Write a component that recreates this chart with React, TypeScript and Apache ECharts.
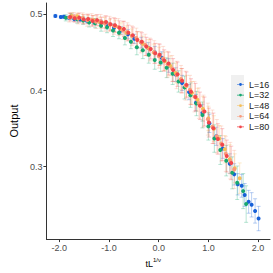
import React, { useEffect, useRef } from "react";
import * as echarts from "echarts";

const seriesNames = ["L=16", "L=32", "L=48", "L=64", "L=80"];
const colors = ["#1660d8", "#16a870", "#f5be57", "#fa9a7b", "#f2474b"];

const x16 = [-2.08, -1.97, -1.91, -1.81, -1.70, -1.58, -1.45, -1.31, -1.17, -1.03, -0.90, -0.76, -0.62, -0.49, -0.35, -0.21, -0.08, 0.06, 0.20, 0.34, 0.47, 0.61, 0.75, 0.88, 1.02, 1.16, 1.29, 1.43, 1.52, 1.59, 1.67, 1.73, 1.81, 1.87, 1.94, 2.01];
const y16 = [0.498, 0.4965, 0.497, 0.4955, 0.494, 0.4935, 0.492, 0.4905, 0.489, 0.485, 0.4825, 0.479, 0.474, 0.468, 0.463, 0.456, 0.45, 0.443, 0.433, 0.421, 0.41, 0.398, 0.384, 0.371, 0.357, 0.34, 0.324, 0.304, 0.29, 0.277, 0.275, 0.263, 0.254, 0.25, 0.242, 0.232];
const e16 = [0.002, 0.002, 0.002, 0.002, 0.003, 0.003, 0.003, 0.004, 0.004, 0.004, 0.005, 0.005, 0.006, 0.006, 0.007, 0.007, 0.008, 0.008, 0.009, 0.009, 0.01, 0.01, 0.011, 0.011, 0.012, 0.012, 0.013, 0.013, 0.014, 0.014, 0.015, 0.015, 0.015, 0.016, 0.016, 0.016];

const x32 = [-1.87, -1.76, -1.64, -1.52, -1.40, -1.28, -1.16, -1.04, -0.92, -0.80, -0.68, -0.56, -0.44, -0.32, -0.20, -0.08, 0.04, 0.16, 0.28, 0.40, 0.52, 0.64, 0.76, 0.88, 1.00, 1.12, 1.24, 1.36, 1.48, 1.58, 1.70, 1.76];
const y32 = [0.4955, 0.4975, 0.4935, 0.492, 0.4895, 0.4885, 0.485, 0.483, 0.479, 0.476, 0.469, 0.464, 0.457, 0.453, 0.447, 0.44, 0.437, 0.43, 0.422, 0.412, 0.404, 0.394, 0.383, 0.368, 0.353, 0.337, 0.322, 0.308, 0.292, 0.279, 0.268, 0.251];
const e32 = [0.004, 0.004, 0.005, 0.005, 0.006, 0.006, 0.007, 0.007, 0.008, 0.008, 0.009, 0.009, 0.01, 0.011, 0.011, 0.012, 0.012, 0.013, 0.014, 0.014, 0.015, 0.016, 0.016, 0.017, 0.018, 0.018, 0.019, 0.02, 0.021, 0.022, 0.023, 0.024];

const x48 = [-1.75, -1.64, -1.53, -1.42, -1.31, -1.20, -1.09, -0.98, -0.87, -0.76, -0.65, -0.54, -0.43, -0.32, -0.21, -0.10, 0.01, 0.12, 0.23, 0.34, 0.45, 0.56, 0.67, 0.78, 0.89, 1.00, 1.11, 1.22, 1.33, 1.43, 1.53, 1.63];
const y48 = [0.498, 0.4975, 0.495, 0.4935, 0.4925, 0.4905, 0.489, 0.4865, 0.4845, 0.481, 0.476, 0.472, 0.467, 0.4615, 0.456, 0.45, 0.445, 0.4385, 0.4325, 0.423, 0.415, 0.406, 0.397, 0.388, 0.376, 0.3635, 0.35, 0.337, 0.323, 0.31, 0.298, 0.285];
const e48 = [0.004, 0.004, 0.005, 0.005, 0.006, 0.006, 0.007, 0.007, 0.008, 0.008, 0.009, 0.009, 0.01, 0.01, 0.011, 0.011, 0.012, 0.012, 0.013, 0.013, 0.014, 0.014, 0.015, 0.015, 0.016, 0.016, 0.017, 0.017, 0.018, 0.019, 0.019, 0.02];

const x64 = [-1.80, -1.71, -1.62, -1.53, -1.44, -1.35, -1.26, -1.17, -1.08, -0.99, -0.90, -0.81, -0.72, -0.63, -0.54, -0.45, -0.36, -0.27, -0.18, -0.09, 0.00, 0.09, 0.18, 0.27, 0.36, 0.45, 0.54, 0.63, 0.72, 0.81, 0.90, 0.99, 1.08, 1.17, 1.26, 1.35, 1.44, 1.52];
const y64 = [0.496, 0.4965, 0.4945, 0.495, 0.4925, 0.493, 0.4905, 0.491, 0.488, 0.4875, 0.485, 0.4835, 0.479, 0.477, 0.472, 0.469, 0.4635, 0.46, 0.454, 0.4505, 0.4455, 0.442, 0.4345, 0.429, 0.4205, 0.415, 0.4065, 0.401, 0.392, 0.3835, 0.373, 0.3625, 0.3525, 0.34, 0.3305, 0.317, 0.308, 0.2965];
const e64 = [0.006, 0.006, 0.007, 0.007, 0.008, 0.008, 0.009, 0.009, 0.01, 0.01, 0.011, 0.011, 0.012, 0.012, 0.013, 0.013, 0.014, 0.014, 0.015, 0.015, 0.016, 0.016, 0.017, 0.017, 0.018, 0.018, 0.019, 0.019, 0.02, 0.02, 0.021, 0.021, 0.022, 0.022, 0.023, 0.023, 0.024, 0.025];

const x80 = [-1.78, -1.69, -1.60, -1.51, -1.42, -1.33, -1.24, -1.15, -1.06, -0.97, -0.88, -0.79, -0.70, -0.61, -0.52, -0.43, -0.34, -0.25, -0.16, -0.07, 0.02, 0.11, 0.20, 0.29, 0.38, 0.47, 0.56, 0.65, 0.74, 0.83, 0.92, 1.01, 1.10, 1.19, 1.28, 1.37, 1.46];
const y80 = [0.4965, 0.495, 0.4958, 0.4935, 0.494, 0.4915, 0.4925, 0.4895, 0.49, 0.487, 0.4858, 0.4825, 0.481, 0.476, 0.4725, 0.4665, 0.464, 0.458, 0.4545, 0.449, 0.447, 0.4395, 0.4355, 0.427, 0.4215, 0.413, 0.4075, 0.3985, 0.3915, 0.38, 0.3725, 0.358, 0.3505, 0.3365, 0.329, 0.314, 0.305];
const e80 = [0.005, 0.005, 0.006, 0.006, 0.006, 0.007, 0.007, 0.007, 0.008, 0.008, 0.009, 0.009, 0.01, 0.01, 0.011, 0.011, 0.012, 0.012, 0.013, 0.013, 0.014, 0.014, 0.015, 0.015, 0.016, 0.016, 0.017, 0.017, 0.018, 0.018, 0.019, 0.019, 0.02, 0.02, 0.021, 0.021, 0.022];

const xTicks = [-2, -1, 0, 1, 2];
const yTicks = [0.3, 0.4, 0.5];

const allX = [x16, x32, x48, x64, x80];
const allY = [y16, y32, y48, y64, y80];
const allE = [e16, e32, e48, e64, e80];

const FONT = "Liberation Sans";

export default function App() {
  const ref = useRef<HTMLDivElement>(null);
  useEffect(() => {
    const chart = echarts.init(ref.current!, null, { renderer: "svg" });
    const errSeries = seriesNames.map((name, i) => ({
      type: "custom",
      name: name + " err",
      z: 1,
      silent: true,
      data: allX[i].map((x, j) => [x, allY[i][j] - allE[i][j], allY[i][j] + allE[i][j]]),
      encode: { x: 0, y: [1, 2] },
      renderItem: (params: any, api: any) => {
        const x = api.value(0);
        const p1 = api.coord([x, api.value(1)]);
        const p2 = api.coord([x, api.value(2)]);
        const hw = 2;
        const style = { stroke: colors[i], lineWidth: 0.8, opacity: 0.38 };
        return {
          type: "group",
          children: [
            { type: "line", shape: { x1: p1[0], y1: p1[1], x2: p2[0], y2: p2[1] }, style },
            { type: "line", shape: { x1: p1[0] - hw, y1: p1[1], x2: p1[0] + hw, y2: p1[1] }, style },
            { type: "line", shape: { x1: p2[0] - hw, y1: p2[1], x2: p2[0] + hw, y2: p2[1] }, style },
          ],
        };
      },
    }));
    const ptSeries = seriesNames.map((name, i) => ({
      type: "scatter",
      name,
      z: 3,
      symbol: "circle",
      symbolSize: 4,
      itemStyle: { color: colors[i], opacity: 1 },
      data: allX[i].map((x, j) => [x, allY[i][j]]),
    }));
    chart.setOption({
      animation: false,
      grid: { left: 29, right: 3, top: 3, bottom: 26, containLabel: false },
      graphic: [
        { type: "rect", left: 231, top: 75, shape: { width: 13, height: 45 }, style: { fill: "#f0f0f0" }, z: 0 },
      ],
      legend: {
        orient: "vertical",
        left: 232,
        top: 75,
        itemWidth: 11,
        itemHeight: 7,
        itemGap: 1.6,
        icon: "path://M0,0 M0,4.6 L10,4.6 L10,5.4 L0,5.4 Z M7,5 A2,2 0 1 1 3,5 A2,2 0 1 1 7,5 Z M0,10",
        textStyle: { fontFamily: FONT, fontSize: 9, color: "#1a1a1a", padding: [0, 0, 0, -2] },
        data: seriesNames,
      },
      xAxis: {
        type: "value",
        min: -2.26,
        max: 2.24,
        name: "{a|tL}{b|1/ν}",
        nameLocation: "middle",
        nameGap: 12,
        nameTextStyle: {
          padding: [0, 10, 0, 0],
          rich: {
            a: { fontFamily: FONT, fontSize: 9, color: "#000", verticalAlign: "bottom" },
            b: { fontFamily: FONT, fontSize: 6, color: "#000", verticalAlign: "top", padding: [0, 0, 5, 0] },
          },
        },
        splitLine: { show: false },
        axisLine: { onZero: false, lineStyle: { color: "#333", width: 1 } },
        axisTick: { show: true, length: 3, lineStyle: { color: "#333" }, customValues: xTicks },
        axisLabel: {
          customValues: xTicks,
          formatter: (v: number) => v.toFixed(1),
          fontFamily: FONT,
          fontSize: 9,
          color: "#4d4d4d",
          margin: 4,
        },
      },
      yAxis: {
        type: "value",
        min: 0.205,
        max: 0.515,
        name: "Output",
        nameLocation: "middle",
        nameRotate: 90,
        nameGap: 17,
        nameTextStyle: { fontFamily: FONT, fontSize: 11, color: "#000" },
        splitLine: { show: false },
        axisLine: { show: true, onZero: false, lineStyle: { color: "#333", width: 1 } },
        axisTick: { show: true, length: 3, lineStyle: { color: "#333" }, customValues: yTicks },
        axisLabel: {
          customValues: yTicks,
          formatter: (v: number) => v.toFixed(1),
          fontFamily: FONT,
          fontSize: 9,
          color: "#4d4d4d",
          margin: 4,
        },
      },
      series: [...errSeries, ...ptSeries],
    });
    return () => chart.dispose();
  }, []);
  return <div ref={ref} style={{ width: 273, height: 273, position: "absolute", left: 0, top: 0 }} />;
}
